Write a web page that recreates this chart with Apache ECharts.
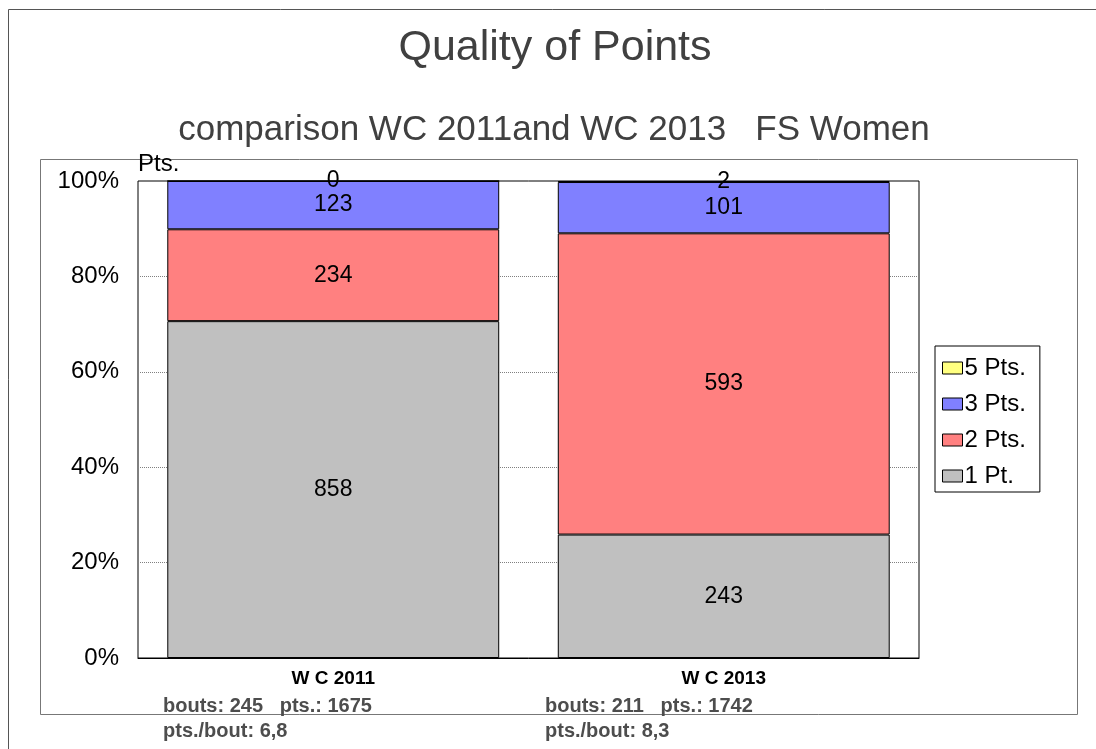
<!DOCTYPE html>
<html>
<head>
<meta charset="utf-8">
<script src="https://cdn.jsdelivr.net/npm/echarts@6/dist/echarts.min.js"></script>
<style>
  html, body { margin: 0; padding: 0; background: #fff; }
  #chart { width: 1096px; height: 749px; }
</style>
</head>
<body>
<div id="chart"></div>
<script>
const categories = ["W C 2011", "W C 2013"];
const onePt = [858, 243];
const twoPts = [234, 593];
const threePts = [123, 101];
const fivePts = [0, 2];
const bouts = [245, 211];
const totalPts = [1675, 1742];
const ptsPerBout = ["6,8", "8,3"];

const FONT = "'Liberation Sans', Arial, sans-serif";

const totals = categories.map(
  (c, i) => onePt[i] + twoPts[i] + threePts[i] + fivePts[i]
);
const toPct = (arr) => arr.map((v, i) => (v / totals[i]) * 100);

const makeSeries = (name, raw, color) => ({
  name: name,
  type: "bar",
  stack: "all",
  barWidth: "85%",
  data: toPct(raw),
  itemStyle: {
    color: color,
    borderColor: "#000",
    borderWidth: 1,
  },
  label: {
    show: true,
    position: "inside",
    color: "#000",
    fontFamily: FONT,
    fontSize: 23,
    formatter: (p) => String(raw[p.dataIndex]),
  },
  emphasis: { disabled: true },
});

const myChart = echarts.init(document.getElementById("chart"));

const option = {
  animation: false,
  backgroundColor: "#fff",
  title: [
    {
      text: "Quality of Points",
      left: 550,
      top: 22,
      textAlign: "center",
      textStyle: {
        fontFamily: FONT,
        fontSize: 43,
        fontWeight: "normal",
        color: "#404040",
      },
    },
    {
      text: "comparison WC 2011and WC 2013   FS Women",
      left: 549,
      top: 108,
      textAlign: "center",
      textStyle: {
        fontFamily: FONT,
        fontSize: 35,
        fontWeight: "normal",
        color: "#404040",
      },
    },
  ],
  legend: {
    orient: "vertical",
    left: 935,
    top: 346,
    data: ["5 Pts.", "3 Pts.", "2 Pts.", "1 Pt."],
    icon: "rect",
    itemWidth: 20,
    itemHeight: 12,
    itemGap: 12,
    padding: [10, 14, 4, 7],
    borderColor: "#000",
    borderWidth: 1,
    selectedMode: false,
    itemStyle: { borderColor: "#000", borderWidth: 1 },
    textStyle: {
      fontFamily: FONT,
      fontSize: 24,
      color: "#000",
      padding: [0, 0, 0, -3],
      lineHeight: 24,
    },
  },
  grid: {
    left: 138,
    right: 177,
    top: 181,
    bottom: 91,
    show: true,
    borderColor: "#000",
    borderWidth: 1,
    backgroundColor: "#fff",
  },
  xAxis: {
    type: "category",
    data: categories,
    axisLine: { show: true, lineStyle: { color: "#000" } },
    axisTick: { show: false },
    axisLabel: {
      margin: 11,
      fontFamily: FONT,
      fontSize: 19,
      fontWeight: "bold",
      color: "#000",
    },
  },
  yAxis: {
    type: "value",
    min: 0,
    max: 100,
    interval: 20,
    name: "Pts.",
    nameLocation: "end",
    nameGap: 5,
    nameTextStyle: {
      fontFamily: FONT,
      fontSize: 24,
      color: "#000",
      align: "left",
      verticalAlign: "bottom",
    },
    axisLine: { show: false },
    axisTick: { show: false },
    axisLabel: {
      margin: 19,
      fontFamily: FONT,
      fontSize: 24,
      color: "#000",
      formatter: "{value}%",
    },
    splitLine: {
      showMinLine: false,
      showMaxLine: false,
      lineStyle: { color: "#808080", type: "dotted" },
    },
  },
  graphic: [
    {
      type: "rect",
      shape: { x: 8.5, y: 9.5, width: 1100, height: 760 },
      style: { fill: "none", stroke: "#555", lineWidth: 1 },
      silent: true,
    },
    {
      type: "rect",
      shape: { x: 40.5, y: 159.5, width: 1037, height: 555 },
      style: { fill: "none", stroke: "#777", lineWidth: 1 },
      silent: true,
    },
    ...categories.flatMap((c, i) => [
      {
        type: "text",
        x: [163, 545][i],
        y: 706,
        style: {
          text: "bouts: " + bouts[i] + "   pts.: " + totalPts[i],
          font: "bold 20px " + FONT,
          fill: "#4d4d4d",
          verticalAlign: "middle",
        },
      },
      {
        type: "text",
        x: [163, 545][i],
        y: 731,
        style: {
          text: "pts./bout: " + ptsPerBout[i],
          font: "bold 20px " + FONT,
          fill: "#4d4d4d",
          verticalAlign: "middle",
        },
      },
    ]),
  ],
  series: [
    makeSeries("1 Pt.", onePt, "#c0c0c0"),
    makeSeries("2 Pts.", twoPts, "#ff8080"),
    makeSeries("3 Pts.", threePts, "#8080ff"),
    makeSeries("5 Pts.", fivePts, "#ffff80"),
  ],
};

myChart.setOption(option);
</script>
</body>
</html>
